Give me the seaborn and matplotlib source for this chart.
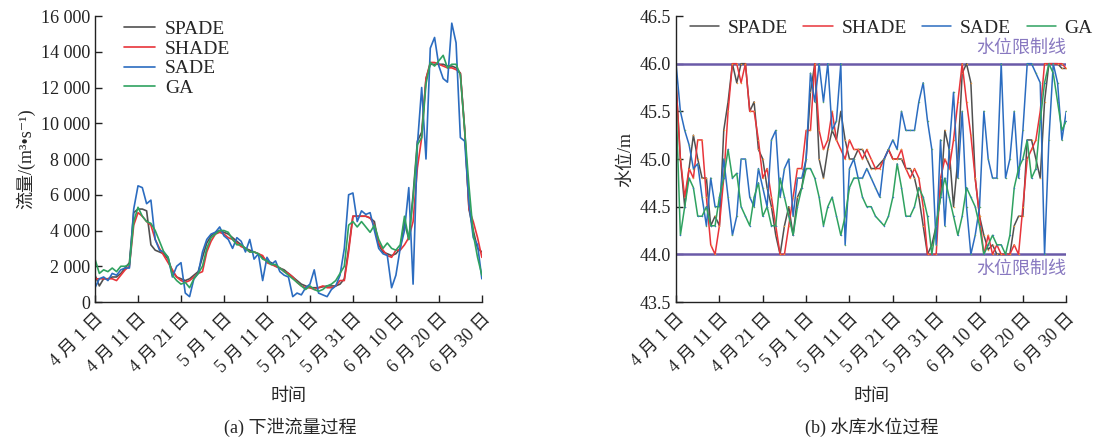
import numpy as np
import pandas as pd
import matplotlib
matplotlib.use("Agg")
import matplotlib.pyplot as plt
import seaborn as sns

# ---------------- data ----------------
days = list(range(91))
tick_days = [0, 10, 20, 30, 40, 50, 60, 70, 80, 90]
tick_labels = ["4 月 1 日", "4 月 11 日", "4 月 21 日", "5 月 1 日", "5 月 11 日",
               "5 月 21 日", "5 月 31 日", "6 月 10 日", "6 月 20 日", "6 月 30 日"]
methods = ["SPADE", "SHADE", "SADE", "GA"]

flow_spade = [1500, 900, 1300, 1300, 1400, 1400, 1600, 1900, 2200, 5000,
              5200, 5200, 5100, 3200, 2900, 2800, 2700, 2400, 1700, 1400,
              1300, 1200, 1300, 1500, 1700, 2500, 3300, 3700, 3900, 4000,
              3900, 3800, 3600, 3400, 3200, 3000, 2900, 2800, 2700, 2500,
              2300, 2200, 2000, 1900, 1800, 1600, 1400, 1200, 1000, 900,
              800, 800, 800, 850, 900, 900, 900, 1000, 1300, 3000,
              4800, 4800, 4800, 4800, 4700, 4500, 3200, 2800, 2700, 2600,
              2700, 3000, 4500, 3500, 6000, 9000, 9500, 12500, 13300, 13300,
              13300, 13300, 13200, 13200, 13100, 12800, 9700, 5200, 4000, 3000,
              2800]
flow_shade = [1300, 1300, 1300, 1300, 1300, 1200, 1500, 1800, 2000, 4300,
              5000, 4800, 4500, 4300, 3500, 3000, 2600, 2200, 1800, 1400,
              1200, 1100, 1200, 1400, 1600, 1700, 2800, 3400, 3800, 3900,
              3800, 3600, 3500, 3300, 3100, 3000, 2800, 2800, 2700, 2600,
              2200, 2100, 2000, 1900, 1700, 1600, 1400, 1100, 900, 800,
              800, 700, 800, 900, 800, 800, 900, 1200, 1200, 2800,
              4800, 4800, 4800, 4800, 4700, 4300, 3300, 2900, 2600, 2500,
              2900, 2900, 3200, 3600, 4500, 7500, 9200, 12500, 13400, 13400,
              13300, 13200, 13100, 13100, 13000, 12800, 9600, 5200, 4500, 3600,
              2500]
flow_sade = [800, 1300, 1400, 1200, 1600, 1500, 1800, 1900, 1900, 5200,
             6500, 6400, 5500, 5700, 3500, 2900, 2800, 2500, 1400, 2000,
             2200, 500, 300, 1300, 1600, 2800, 3500, 3800, 3900, 4200,
             3700, 3500, 3000, 3600, 3400, 2800, 3500, 2400, 2700, 1200,
             2500, 2100, 2300, 1700, 1500, 1400, 300, 500, 400, 800,
             1000, 1800, 500, 400, 300, 700, 900, 1500, 3000, 6000,
             6100, 4500, 5100, 4900, 5000, 4000, 3000, 2700, 2600, 800,
             1500, 3000, 4000, 6400, 1000, 8800, 12000, 8000, 14200, 14800,
             13200, 12500, 12300, 15600, 14500, 9200, 9000, 5500, 3600, 3200,
             1300]
flow_ga = [2400, 1600, 1800, 1700, 1900, 1700, 2000, 2000, 2100, 4500,
           5300, 4800, 4500, 4400, 4000, 3400, 2800, 2500, 1500, 1200,
           1000, 1100, 800, 1300, 1600, 2000, 3000, 3600, 3800, 4000,
           4000, 3900, 3500, 3200, 3200, 3000, 2800, 2800, 2700, 2400,
           2300, 2100, 2100, 1900, 1700, 1500, 1300, 1100, 900, 700,
           900, 700, 600, 700, 900, 1000, 1200, 1600, 2000, 4300,
           4500, 4200, 4500, 4200, 3900, 4300, 3500, 3000, 3300, 3000,
           2900, 3200, 4800, 3500, 5800, 8800, 9200, 12200, 13400, 13200,
           13500, 13800, 13100, 13300, 13300, 12700, 9600, 6500, 3800, 2500,
           1500]

lvl_spade = [45.8, 45.0, 44.5, 44.9, 45.25, 45.0, 44.8, 44.8, 44.3, 44.4,
             44.3, 45.3, 45.6, 46.0, 45.8, 46.0, 46.0, 45.5, 45.6, 45.1,
             45.0, 44.7, 44.5, 44.2, 44.0, 44.3, 44.5, 44.2, 44.6, 44.7,
             45.0, 45.7, 46.0, 45.0, 44.8, 45.1, 45.3, 45.2, 45.5, 45.2,
             45.0, 45.0, 45.1, 45.1, 45.0, 44.9, 44.9, 44.95, 45.0, 45.1,
             45.0, 45.0, 45.0, 44.9, 44.9, 44.8, 44.6, 44.3, 44.0, 44.1,
             44.3, 44.6, 45.3, 45.1, 44.5, 45.0, 45.9, 46.0, 45.8, 44.8,
             44.4, 44.2, 44.05, 44.1, 44.0, 44.0, 44.0, 44.0, 44.3, 44.4,
             44.4, 45.2, 45.2, 45.0, 44.8, 45.6, 46.0, 46.0, 46.0, 45.95,
             45.95]
lvl_shade = [45.8, 45.0, 44.6, 44.9, 44.8, 45.2, 45.2, 44.6, 44.1, 44.0,
             44.3, 44.8, 45.5, 46.0, 46.0, 45.8, 46.0, 45.5, 45.5, 45.2,
             44.8, 44.9, 44.6, 44.3, 44.0, 44.0, 44.3, 44.6, 44.9, 44.9,
             45.3, 45.3, 46.0, 45.3, 45.1, 45.2, 45.5, 45.2, 45.1, 45.0,
             45.2, 45.1, 45.1, 45.0, 45.1, 45.0, 44.9, 44.9, 45.0, 45.1,
             45.0, 45.0, 45.1, 44.9, 44.8, 44.9, 44.8, 44.5, 44.0, 44.0,
             44.0, 44.8, 45.0, 44.9, 45.2, 45.6, 46.0, 45.6, 45.25, 44.8,
             44.4, 44.0, 44.2, 44.0, 44.1, 44.0, 44.0, 44.0, 44.1, 44.0,
             44.5, 45.0, 45.1, 45.2, 45.5, 46.0, 46.0, 46.0, 46.0, 46.0,
             45.95]
lvl_sade = [46.0, 45.5, 45.3, 45.15, 44.9, 44.95, 44.6, 44.3, 44.8, 44.5,
            44.5, 45.0, 44.6, 44.2, 44.4, 45.0, 45.0, 44.6, 44.5, 44.9,
            44.7, 44.5, 45.2, 45.3, 44.6, 44.9, 45.0, 44.4, 44.8, 44.8,
            45.0, 45.9, 45.6, 46.0, 45.6, 46.0, 45.3, 45.4, 46.0, 44.1,
            44.9, 45.0, 44.8, 44.8, 44.9, 44.8, 44.7, 44.6, 45.0, 45.1,
            45.2, 45.1, 45.5, 45.3, 45.3, 45.3, 45.6, 45.8, 45.4, 45.1,
            44.1, 45.2, 44.3, 45.1, 45.7, 44.8, 45.5, 44.5, 44.0, 44.2,
            44.5, 45.5, 45.0, 44.8, 44.8, 46.0, 44.8, 45.0, 45.5, 44.8,
            45.3, 46.0, 46.0, 45.9, 45.8, 44.0, 45.2, 46.0, 45.8, 45.2,
            45.5]
lvl_ga = [45.6, 44.2, 44.5, 44.8, 44.7, 44.4, 44.4, 44.5, 44.3, 44.3,
          44.6, 44.8, 45.1, 44.8, 44.85, 44.5, 44.4, 44.3, 44.6, 44.75,
          44.4, 44.5, 44.3, 44.3, 44.8, 44.6, 44.4, 44.2, 44.5, 44.7,
          44.9, 44.9, 44.8, 44.6, 44.3, 44.5, 44.6, 44.4, 44.2, 44.4,
          44.7, 44.8, 44.8, 44.6, 44.5, 44.5, 44.4, 44.35, 44.3, 44.4,
          44.6, 44.95, 44.7, 44.4, 44.4, 44.5, 44.7, 44.6, 44.4, 44.0,
          44.3, 44.6, 44.8, 44.6, 44.4, 44.2, 44.4, 44.7, 44.6, 44.5,
          44.3, 44.0, 44.1, 44.2, 44.1, 44.1, 44.0, 44.2, 44.7, 44.9,
          45.0, 45.2, 44.8, 44.9, 45.4, 45.8, 46.0, 45.9, 45.6, 45.3,
          45.4]

level_limits = [46.0, 44.0]
limit_label = "水位限制线"

# ---------------- style ----------------
sns.set_style("ticks")
FAM = ["Liberation Serif", "Noto Sans CJK SC", "DejaVu Sans"]
plt.rcParams["font.family"] = FAM
plt.rcParams["axes.unicode_minus"] = False

palette = {"SPADE": "#505050", "SHADE": "#e8343a", "SADE": "#2b6cc0", "GA": "#2fa260"}
dot_colors = {"SPADE": "#e8963a", "SHADE": "#e8963a", "SADE": "#5aa86a", "GA": "#3a78c0"}
FS = 13
LFS = 14

flow_df = pd.DataFrame({"day": days * 4,
                        "value": flow_spade + flow_shade + flow_sade + flow_ga,
                        "method": sum([[m] * len(days) for m in methods], [])})
lvl_df = pd.DataFrame({"day": days * 4,
                       "value": lvl_spade + lvl_shade + lvl_sade + lvl_ga,
                       "method": sum([[m] * len(days) for m in methods], [])})

fig = plt.figure(figsize=(11.18, 4.4), dpi=100)
ax1 = fig.add_axes([0.085, 0.3136, 0.346, 0.65])
ax2 = fig.add_axes([0.6047, 0.3136, 0.349, 0.65])

sns.lineplot(data=flow_df, x="day", y="value", hue="method", hue_order=methods,
             palette=palette, linewidth=1.2, ax=ax1, estimator=None)
sns.lineplot(data=lvl_df, x="day", y="value", hue="method", hue_order=methods,
             palette=palette, linewidth=1.1, ax=ax2, estimator=None)

# tiny point markers on the water-level curves
for line, m in zip(ax2.lines[:4], methods):
    line.set_marker(".")
    line.set_markersize(2.2)
    line.set_markerfacecolor(dot_colors[m])
    line.set_markeredgecolor(dot_colors[m])
    line.set_markeredgewidth(0)

for y in level_limits:
    ax2.axhline(y, color="#6a5aa8", linewidth=1.8, zorder=1)
ax2.text(1.0, level_limits[0] + 0.07, limit_label, transform=ax2.get_yaxis_transform(),
         ha="right", va="bottom", color="#8878c0", fontsize=FS, family=FAM)
ax2.text(1.0, level_limits[1] - 0.07, limit_label, transform=ax2.get_yaxis_transform(),
         ha="right", va="top", color="#8878c0", fontsize=FS, family=FAM)

for ax in (ax1, ax2):
    ax.set_xlim(0, 90)
    ax.set_xticks(tick_days)
    ax.set_xticklabels(tick_labels, rotation=45, ha="right", rotation_mode="anchor",
                       fontsize=FS, family=FAM)
    ax.tick_params(direction="in", length=5, width=1, colors="#222222", labelcolor="#222222")
    ax.tick_params(axis="x", pad=6)
    for s in ("top", "right"):
        ax.spines[s].set_visible(False)
    for s in ("left", "bottom"):
        ax.spines[s].set_color("#222222")
        ax.spines[s].set_linewidth(1.0)
    ax.set_xlabel("时间", fontsize=FS, family=FAM, labelpad=8)

ax1.set_ylim(0, 16000)
yt1 = list(range(0, 16001, 2000))
ax1.set_yticks(yt1)
ax1.set_yticklabels([f"{v:,}".replace(",", " ") for v in yt1], fontsize=FS, family=FAM)
ax1.set_ylabel("流量/(m³•s⁻¹)", fontsize=FS, family=FAM, labelpad=4)

ax2.set_ylim(43.5, 46.5)
yt2 = [43.5, 44.0, 44.5, 45.0, 45.5, 46.0, 46.5]
ax2.set_yticks(yt2)
ax2.set_yticklabels([f"{v:.1f}" for v in yt2], fontsize=FS, family=FAM)
ax2.set_ylabel("水位/m", fontsize=FS, family=FAM, labelpad=4)

h, l = ax1.get_legend_handles_labels()
ax1.legend(h, l, loc="upper left", bbox_to_anchor=(0.03, 1.045), frameon=False,
           handlelength=1.6, labelspacing=0.1, handletextpad=0.5,
           prop={"family": FAM, "size": LFS})
h, l = ax2.get_legend_handles_labels()
leg2 = ax2.legend(h, l, loc="upper left", bbox_to_anchor=(-0.01, 1.05), frameon=False, ncol=4,
                  handlelength=1.5, columnspacing=0.8, handletextpad=0.45,
                  prop={"family": FAM, "size": LFS})
for lh in leg2.get_lines():
    lh.set_marker("")

fig.text(0.26, 0.03, "(a) 下泄流量过程", ha="center", va="center", fontsize=FS, family=FAM)
fig.text(0.78, 0.03, "(b) 水库水位过程", ha="center", va="center", fontsize=FS, family=FAM)

fig.savefig("out.png", dpi=100)
